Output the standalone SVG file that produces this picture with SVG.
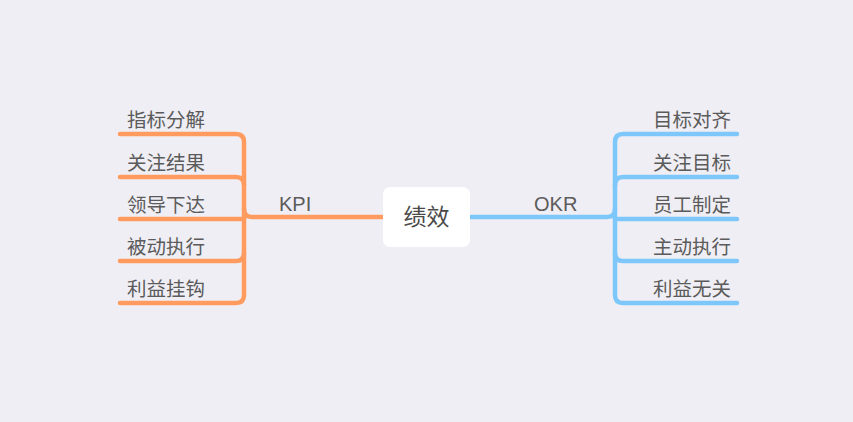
<svg xmlns="http://www.w3.org/2000/svg" width="853" height="422" viewBox="0 0 853 422">
<style>
.t{font-family:"Noto Sans CJK SC","Liberation Sans",sans-serif;font-size:19.5px;fill:#5b5b5b}
.l{font-family:"Liberation Sans","Noto Sans CJK SC",sans-serif;font-size:20px;fill:#5b5b5b}
.o{fill:none;stroke:#FF9B5E;stroke-width:4.5;stroke-linecap:round;stroke-linejoin:round}
.b{fill:none;stroke:#7DC7FA;stroke-width:4.5;stroke-linecap:round;stroke-linejoin:round}
</style>
<rect width="853" height="422" fill="#EFEEF4"/>
<g id="connectors">
<path class="o" d="M120 134 H236 Q244 134 244 142 V295 Q244 303 236 303 H120"/>
<path class="o" d="M120 177 H236 Q244 177 244 185"/>
<path class="o" d="M120 219 H244"/>
<path class="o" d="M120 261 H236 Q244 261 244 253"/>
<path class="o" d="M244 209 Q244 217 252 217 H383"/>
<path class="b" d="M737 134 H623 Q615 134 615 142 V295 Q615 303 623 303 H737"/>
<path class="b" d="M737 177 H623 Q615 177 615 185"/>
<path class="b" d="M737 219 H615"/>
<path class="b" d="M737 261 H623 Q615 261 615 253"/>
<path class="b" d="M615 209 Q615 217 607 217 H470"/>
</g>
<g id="center">
<rect x="383" y="187" width="87" height="60" rx="7" fill="#FFFFFF"/>
<text x="426.5" y="225" text-anchor="middle" font-family="Noto Sans CJK SC,sans-serif" font-size="23" fill="#4a4a4a">绩效</text>
</g>
<g id="kpi"><text class="l" x="279" y="211">KPI</text></g>
<g id="okr"><text class="l" x="534" y="211">OKR</text></g>
<g id="k1"><text class="t" x="127" y="127">指标分解</text></g>
<g id="k2"><text class="t" x="127" y="170">关注结果</text></g>
<g id="k3"><text class="t" x="127" y="212">领导下达</text></g>
<g id="k4"><text class="t" x="127" y="254">被动执行</text></g>
<g id="k5"><text class="t" x="127" y="296">利益挂钩</text></g>
<g id="o1"><text class="t" x="731" y="127" text-anchor="end">目标对齐</text></g>
<g id="o2"><text class="t" x="731" y="170" text-anchor="end">关注目标</text></g>
<g id="o3"><text class="t" x="731" y="212" text-anchor="end">员工制定</text></g>
<g id="o4"><text class="t" x="731" y="254" text-anchor="end">主动执行</text></g>
<g id="o5"><text class="t" x="731" y="296" text-anchor="end">利益无关</text></g>
</svg>
